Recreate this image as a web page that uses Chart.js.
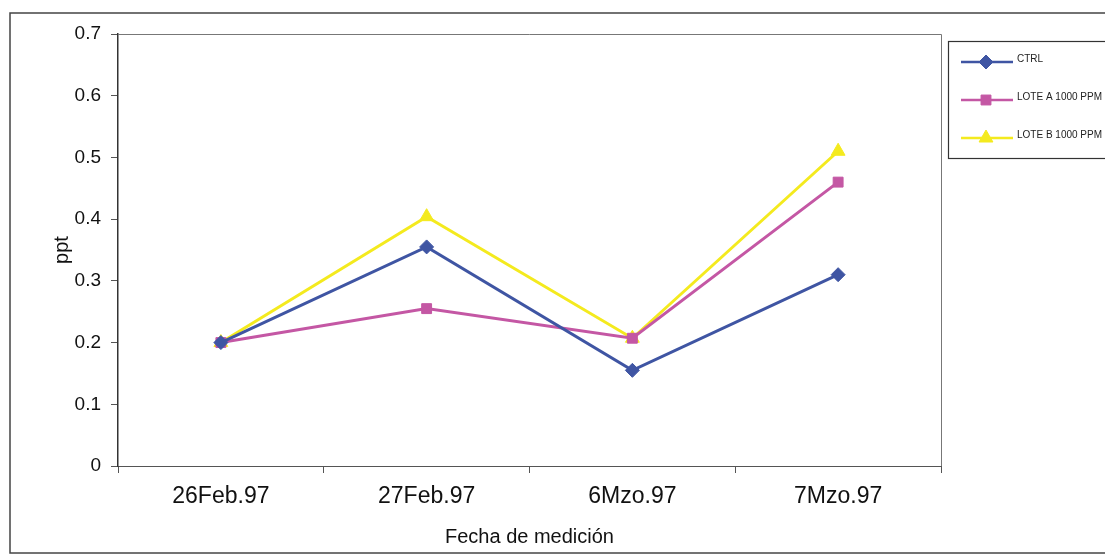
<!DOCTYPE html>
<html lang="en">
    <head>
        <meta charset="UTF-8" />
        <title>ppt por fecha de medición</title>
        <script src="https://cdn.jsdelivr.net/npm/chart.js"></script>
        <style>
            html, body {
                margin: 0;
                padding: 0;
                background: #ffffff;
            }
            .chart-container {
                width: 1105px;
                height: 556px;
            }
        </style>
    </head>
    <body>
        <div class="chart-container">
            <canvas id="pptChart"></canvas>
        </div>

        <script>
            // data
            const fechas = ["26Feb.97", "27Feb.97", "6Mzo.97", "7Mzo.97"];
            const ctrl = [0.2, 0.355, 0.155, 0.31];
            const loteA = [0.2, 0.255, 0.207, 0.46];
            const loteB = [0.2, 0.404, 0.207, 0.51];
            const serieNombres = ["CTRL", "LOTE A 1000 PPM", "LOTE B 1000 PPM"];

            const azul = "#3f55a3";
            const magenta = "#c457a4";
            const amarillo = "#f4ea1e";

            // outer frame, plot border and the boxed legend
            const framePlugin = {
                id: "framePlugin",
                afterDraw(chart) {
                    const ctx = chart.ctx;
                    const a = chart.chartArea;
                    ctx.save();
                    ctx.strokeStyle = "#444";
                    ctx.lineWidth = 1.5;
                    ctx.strokeRect(10, 13, 1110, 540);

                    ctx.strokeStyle = "#777";
                    ctx.lineWidth = 1;
                    ctx.beginPath();
                    ctx.moveTo(a.left, a.top + 0.5);
                    ctx.lineTo(a.right + 0.5, a.top + 0.5);
                    ctx.lineTo(a.right + 0.5, a.bottom);
                    ctx.stroke();

                    // legend
                    ctx.strokeStyle = "#333";
                    ctx.lineWidth = 1.2;
                    ctx.strokeRect(948.5, 41.5, 170, 117);
                    const ys = [62, 100, 138];
                    chart.data.datasets.forEach((ds, i) => {
                        const y = ys[i];
                        ctx.strokeStyle = ds.borderColor;
                        ctx.lineWidth = 2.5;
                        ctx.beginPath();
                        ctx.moveTo(961, y);
                        ctx.lineTo(1013, y);
                        ctx.stroke();
                        ctx.fillStyle = ds.pointBackgroundColor;
                        ctx.strokeStyle = ds.pointBorderColor;
                        ctx.lineWidth = 1;
                        Chart.helpers.drawPoint(
                            ctx,
                            {
                                pointStyle: ds.pointStyle,
                                radius: ds.pointRadius,
                                borderWidth: 1,
                            },
                            986,
                            y
                        );
                        ctx.fillStyle = "#222";
                        ctx.font = "10px 'Liberation Sans', Arial, sans-serif";
                        ctx.textBaseline = "middle";
                        ctx.textAlign = "left";
                        ctx.fillText(ds.label, 1017, y - 3);
                    });
                    ctx.restore();
                },
            };

            const ctx = document.getElementById("pptChart").getContext("2d");
            const colores = [azul, magenta, amarillo];
            const estilos = ["rectRot", "rect", "triangle"];
            const radios = [7, 7, 8];
            const series = [ctrl, loteA, loteB];

            const pptChart = new Chart(ctx, {
                type: "line",
                data: {
                    labels: fechas,
                    datasets: series.map((vals, i) => ({
                        label: serieNombres[i],
                        data: vals,
                        borderColor: colores[i],
                        backgroundColor: colores[i],
                        pointBackgroundColor: colores[i],
                        pointBorderColor: colores[i],
                        pointStyle: estilos[i],
                        pointRadius: radios[i],
                        pointBorderWidth: 1,
                        borderWidth: 3,
                        tension: 0,
                        fill: false,
                    })),
                },
                options: {
                    responsive: true,
                    maintainAspectRatio: false,
                    animation: false,
                    layout: {
                        padding: { left: 0, top: 34, right: 164, bottom: 0 },
                    },
                    plugins: {
                        legend: { display: false },
                        tooltip: { enabled: false },
                    },
                    scales: {
                        x: {
                            offset: true,
                            afterFit(scale) {
                                scale.height = 90;
                            },
                            grid: {
                                drawOnChartArea: false,
                                drawTicks: true,
                                tickLength: 7,
                                offset: true,
                                color: "#555",
                            },
                            border: { color: "#555", width: 1 },
                            ticks: {
                                color: "#111",
                                padding: 10,
                                font: { family: "'Liberation Sans', Arial", size: 23 },
                            },
                            title: {
                                display: true,
                                text: "Fecha de medición",
                                color: "#111",
                                padding: { top: 4, bottom: 7 },
                                font: { family: "'Liberation Sans', Arial", size: 20 },
                            },
                        },
                        y: {
                            min: 0,
                            max: 0.7,
                            afterFit(scale) {
                                scale.width = 118;
                            },
                            grid: {
                                drawOnChartArea: false,
                                drawTicks: true,
                                tickLength: 7,
                                color: "#555",
                            },
                            border: { color: "#333", width: 1.5 },
                            ticks: {
                                stepSize: 0.1,
                                color: "#111",
                                padding: 10,
                                font: { family: "'Liberation Sans', Arial", size: 19 },
                            },
                            title: {
                                display: true,
                                text: "ppt",
                                color: "#111",
                                padding: { top: 50, bottom: 0 },
                                font: { family: "'Liberation Sans', Arial", size: 20 },
                            },
                        },
                    },
                },
                plugins: [framePlugin],
            });
        </script>
    </body>
</html>
